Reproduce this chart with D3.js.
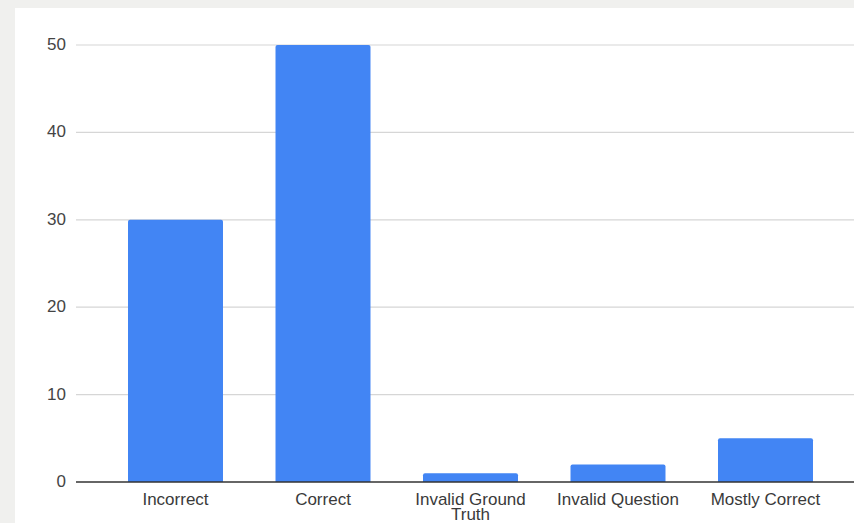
<!DOCTYPE html>
<html>
<head>
<meta charset="utf-8">
<script src="https://cdn.jsdelivr.net/npm/d3@7"></script>
<style>
  html, body { margin: 0; padding: 0; background: #f0f0ee; }
  svg { display: block; }
  text { font-family: Arial, "Liberation Sans", sans-serif; }
</style>
</head>
<body>
<script>
// Response categories and their counts
const categories = ["Incorrect", "Correct", "Invalid Ground Truth", "Invalid Question", "Mostly Correct"];
const counts = [30, 50, 1, 2, 5];
const yTicks = [0, 10, 20, 30, 40, 50];

const W = 854, H = 523;
const svg = d3.select("body").append("svg").attr("width", W).attr("height", H);

// white chart card
svg.append("rect").attr("x", 15).attr("y", 8).attr("width", W - 15).attr("height", H - 8).attr("fill", "#ffffff");

const plotLeft = 76, plotRight = 854;
const y = d3.scaleLinear().domain([0, 50]).range([482, 45]);
const x = d3.scaleBand().domain(categories).range([101.75, 839.25]).paddingInner(0.356).paddingOuter(0.178);

// gridlines
svg.append("g").selectAll("line").data(yTicks.filter(d => d !== 0)).join("line")
  .attr("x1", plotLeft).attr("x2", plotRight)
  .attr("y1", d => y(d)).attr("y2", d => y(d))
  .attr("stroke", "#d6d6d6").attr("stroke-width", 1.2);

// y tick labels
svg.append("g").selectAll("text").data(yTicks).join("text")
  .attr("x", 66).attr("y", d => y(d) - 1).attr("dy", "0.35em")
  .attr("text-anchor", "end").attr("font-size", 17).attr("fill", "#444")
  .text(d => d);

// bars with slightly rounded tops
const r = 2;
svg.append("g").selectAll("path").data(categories).join("path")
  .attr("fill", "#4285f4")
  .attr("d", (c, i) => {
    const x0 = x(c), w = x.bandwidth(), y0 = y(counts[i]), y1 = y(0);
    return `M${x0},${y1}V${y0 + r}Q${x0},${y0} ${x0 + r},${y0}H${x0 + w - r}Q${x0 + w},${y0} ${x0 + w},${y0 + r}V${y1}Z`;
  });

// baseline
svg.append("line").attr("x1", plotLeft).attr("x2", plotRight)
  .attr("y1", y(0)).attr("y2", y(0)).attr("stroke", "#333").attr("stroke-width", 1.5);

// category labels, wrapped onto two lines when needed
const labelLines = { "Invalid Ground Truth": ["Invalid Ground", "Truth"] };
const lab = svg.append("g").selectAll("text").data(categories).join("text")
  .attr("x", c => x(c) + x.bandwidth() / 2).attr("y", 505)
  .attr("text-anchor", "middle").attr("font-size", 17).attr("fill", "#3a3a3a");
lab.each(function (c) {
  const lines = labelLines[c] || [c];
  const t = d3.select(this);
  lines.forEach((l, i) => {
    t.append("tspan").attr("x", x(c) + x.bandwidth() / 2).attr("dy", i === 0 ? 0 : 15).text(l);
  });
});
</script>
</body>
</html>
